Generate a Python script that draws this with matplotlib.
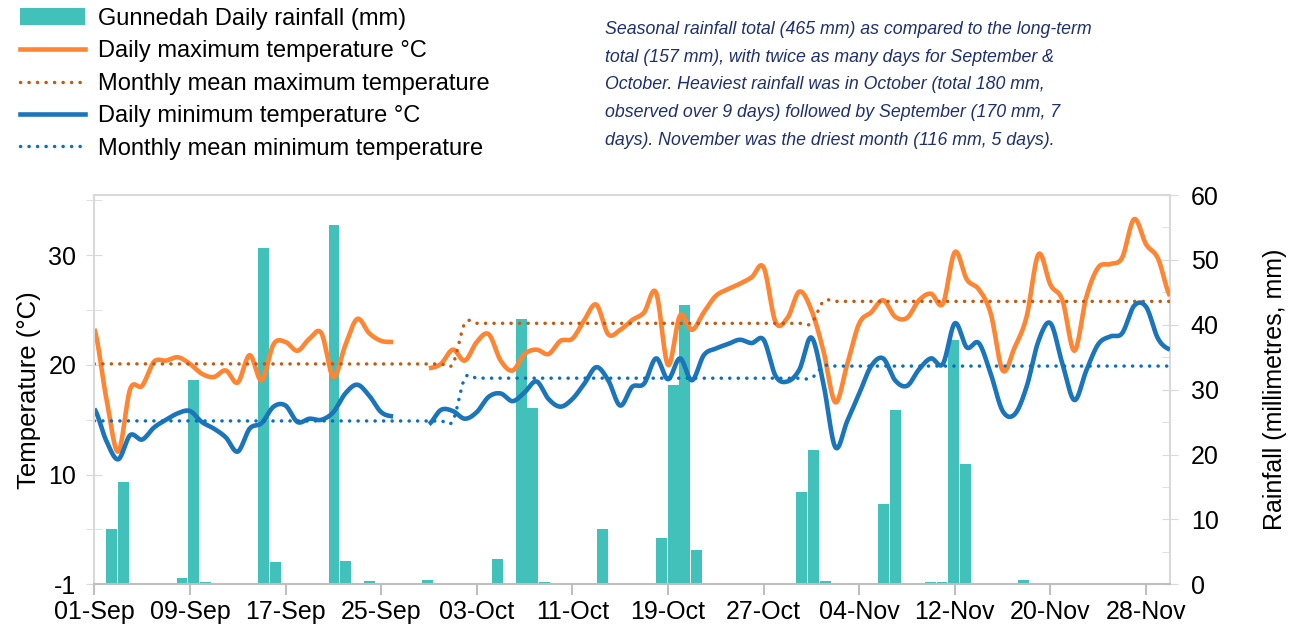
import numpy as np
import pandas as pd
import matplotlib
matplotlib.use("Agg")
import matplotlib.pyplot as plt
import matplotlib.font_manager as fm
from matplotlib.lines import Line2D
from matplotlib.patches import Patch

plt.rcParams["font.family"] = ["Liberation Sans", "DejaVu Sans"]

# 데이터 (1 Sep - 30 Nov)
dates = pd.date_range("2023-09-01", "2023-11-30", freq="D")

t_max = [23.3, 17.0, 12.1, 17.8, 18.1, 20.3, 20.4, 20.7, 20.1, 19.2,
         18.9, 19.5, 18.4, 20.9, 18.6, 21.9, 22.1, 21.3, 22.4, 22.9,
         18.9, 21.8, 24.2, 22.9, 22.2, 22.1, np.nan, np.nan, 19.7, 20.1,
         21.4, 20.4, 22.1, 22.8, 20.4, 19.5, 21.0, 21.4, 21.0, 22.2,
         22.4, 24.1, 25.5, 22.8, 23.2, 24.1, 24.8, 26.6, 20.0, 24.5,
         23.2, 24.8, 26.3, 26.9, 27.4, 28.0, 28.9, 23.9, 24.3, 26.7,
         25.0, 21.3, 16.6, 20.1, 23.8, 24.8, 25.9, 24.4, 24.3, 25.9,
         26.5, 25.6, 30.3, 27.8, 26.9, 24.7, 19.5, 21.6, 24.4, 30.1,
         27.3, 25.9, 21.3, 26.2, 28.9, 29.2, 29.8, 33.3, 31.0, 29.7,
         26.3]

t_min = [16.0, 13.1, 11.4, 13.6, 13.2, 14.3, 15.0, 15.6, 15.8, 14.8,
         14.2, 13.4, 12.1, 14.2, 14.7, 16.2, 16.3, 14.8, 15.1, 15.0,
         15.7, 17.4, 18.2, 17.2, 15.7, 15.3, np.nan, np.nan, 14.6, 15.9,
         15.8, 15.1, 15.7, 17.1, 17.4, 16.7, 17.5, 18.5, 16.9, 16.2,
         16.9, 18.3, 19.8, 18.6, 16.3, 18.0, 18.3, 20.6, 18.7, 20.6,
         18.6, 20.9, 21.5, 21.9, 22.3, 22.0, 22.3, 19.0, 18.5, 19.6,
         22.5, 18.3, 12.5, 14.9, 17.4, 19.9, 20.6, 18.6, 18.1, 19.6,
         20.6, 20.1, 23.8, 21.6, 22.0, 19.2, 15.8, 15.5, 18.0, 22.2,
         23.8, 20.1, 16.8, 19.5, 21.9, 22.6, 22.9, 25.4, 25.3, 22.4,
         21.4]

# 월 평균 (Sep, Oct, Nov) 과 일수
mean_max_month = [20.1, 23.8, 25.8]
mean_min_month = [14.9, 18.8, 19.9]
month_days = [31, 30, 30]

# 강수량: 1 Sep 부터의 일 번호, mm  (92 categories, 1 Sep - 1 Dec)
n_rain_days = 92
rain_day = [1, 2, 7, 8, 9, 14, 15, 20, 21, 23, 28,
            34, 36, 37, 38, 43, 48, 49, 50, 51, 60,
            61, 62, 67, 68, 71, 72, 73, 74, 79]
rain_mm = [8.5, 15.8, 0.9, 31.5, 0.3, 51.9, 3.5, 55.4, 3.6, 0.5, 0.7,
           3.9, 40.9, 27.1, 0.3, 8.5, 7.1, 30.7, 43.0, 5.3, 14.3,
           20.7, 0.5, 12.3, 26.9, 0.3, 0.3, 37.6, 18.6, 0.7]

note = ("Seasonal rainfall total (465 mm) as compared to the long-term\n"
        "total (157 mm), with twice as many days for September &\n"
        "October. Heaviest rainfall was in October (total 180 mm,\n"
        "observed over 9 days) followed by September (170 mm, 7\n"
        "days). November was the driest month (116 mm, 5 days).")

c_rain = "#42C0BA"
c_max = "#FF8533"
c_max_mean = "#C55A11"
c_min = "#1A75BB"
c_min_mean = "#0A70C0"
c_grid = "#D9D9D9"


# 엑셀 스타일 곡선 (Bezier / Catmull-Rom)
def smooth(y, n=16):
    y = np.asarray(y, float)
    idx = np.where(~np.isnan(y))[0]
    segs = np.split(idx, np.where(np.diff(idx) > 1)[0] + 1)
    xs, ys = [], []
    t = np.linspace(0, 1, n, endpoint=False)
    for seg in segs:
        py = y[seg]
        m = len(seg)
        for i in range(m - 1):
            p0 = py[max(i - 1, 0)]
            p1 = py[i]
            p2 = py[i + 1]
            p3 = py[min(i + 2, m - 1)]
            c1 = p1 + (p2 - p0) / 6
            c2 = p2 - (p3 - p1) / 6
            b = ((1 - t) ** 3 * p1 + 3 * (1 - t) ** 2 * t * c1
                 + 3 * (1 - t) * t ** 2 * c2 + t ** 3 * p2)
            xs.extend(seg[i] + t)
            ys.extend(b)
        xs.append(seg[-1])
        ys.append(py[-1])
        xs.append(np.nan)
        ys.append(np.nan)
    return np.array(xs), np.array(ys)


day = np.arange(len(dates))
mean_max = np.repeat(mean_max_month, month_days)
mean_min = np.repeat(mean_min_month, month_days)
rain = np.zeros(n_rain_days)
rain[rain_day] = rain_mm

dots = (0, (0.05, 2.4))

fig = plt.figure(figsize=(13, 6.29), dpi=100)
rect = [94.3 / 1300, 44.7 / 629, (1170 - 94.3) / 1300, (584.3 - 195) / 629]

# 강수량 막대 (오른쪽 축)
ax_r = fig.add_axes(rect)
ax_r.bar(np.arange(n_rain_days), rain, width=0.93, color=c_rain, linewidth=0)
ax_r.set_xlim(-0.5, n_rain_days - 0.5)
ax_r.set_ylim(0, 60)
ax_r.set_xticks([])
ax_r.yaxis.tick_right()
ax_r.yaxis.set_label_position("right")
ax_r.set_yticks(np.arange(0, 61, 10))
ax_r.set_yticks(np.arange(5, 60, 10), minor=True)
ax_r.tick_params(axis="y", which="major", direction="inout", length=12,
                 color=c_grid, labelsize=18, pad=9)
ax_r.tick_params(axis="y", which="minor", direction="in", length=6, color=c_grid)
ax_r.set_ylabel("Rainfall (millimetres, mm)", fontsize=18, labelpad=32)
for s in ["left", "bottom"]:
    ax_r.spines[s].set_visible(False)
for s in ["right", "top"]:
    ax_r.spines[s].set_color(c_grid)
    ax_r.spines[s].set_linewidth(1.5)

# 기온 (왼쪽 축)
ax = fig.add_axes(rect)
ax.patch.set_visible(False)
ax.plot(*smooth(t_max), color=c_max, lw=3.3, solid_capstyle="butt")
ax.plot(*smooth(mean_max), color=c_max_mean, lw=2.5, linestyle=dots,
        dash_capstyle="round")
ax.plot(*smooth(t_min), color=c_min, lw=3.3, solid_capstyle="butt")
ax.plot(*smooth(mean_min), color=c_min_mean, lw=2.5, linestyle=dots,
        dash_capstyle="round")
ax.set_xlim(0, len(dates) - 1)
ax.set_ylim(0, 35.5)
ax.set_yticks([0, 10, 20, 30])
ax.set_yticklabels(["-1", "10", "20", "30"])
ax.set_yticks([5, 15, 25, 35], minor=True)
ax.tick_params(axis="y", which="major", direction="inout", length=12,
               color=c_grid, labelsize=18, pad=7)
ax.tick_params(axis="y", which="minor", direction="inout", length=12, color=c_grid)
xt = day[::8]
ax.set_xticks(xt)
ax.set_xticklabels([d.strftime("%d-%b") for d in dates[::8]])
ax.tick_params(axis="x", direction="out", length=8, color="#BFBFBF",
               labelsize=18, pad=3, width=1.5)
ax.set_ylabel("Temperature (°C)", fontsize=18.5, labelpad=5)
for s in ["right", "top"]:
    ax.spines[s].set_visible(False)
ax.spines["left"].set_color(c_grid)
ax.spines["left"].set_linewidth(1.5)
ax.spines["bottom"].set_color("#BFBFBF")
ax.spines["bottom"].set_linewidth(1.5)

handles = [
    Patch(facecolor=c_rain, edgecolor="none"),
    Line2D([], [], color=c_max, lw=3.3),
    Line2D([], [], color=c_max_mean, lw=2.5, linestyle=dots, dash_capstyle="round"),
    Line2D([], [], color=c_min, lw=3.3),
    Line2D([], [], color=c_min_mean, lw=2.5, linestyle=dots, dash_capstyle="round"),
]
labels = ["Gunnedah Daily rainfall (mm)", "Daily maximum temperature °C",
          "Monthly mean maximum temperature", "Daily minimum temperature °C",
          "Monthly mean minimum temperature"]
fig.legend(handles, labels, loc="upper left", bbox_to_anchor=(20 / 1300, 1 - 8 / 629),
           frameon=False, fontsize=17, handlelength=2.75, handletextpad=0.55,
           labelspacing=0.44, borderaxespad=0, borderpad=0)

names = {f.name for f in fm.fontManager.ttflist}
if "Liberation Sans Narrow" in names:
    note_font, note_size, note_ls = "Liberation Sans Narrow", 14.4, 1.35
else:
    note_font, note_size, note_ls = "Liberation Sans", 12.8, 1.82
fig.text(605 / 1300, 1 - 21 / 629, note, ha="left", va="top", style="italic",
         family=note_font, fontsize=note_size, color="#1F3070", linespacing=note_ls)

fig.savefig("out.png", dpi=100)
